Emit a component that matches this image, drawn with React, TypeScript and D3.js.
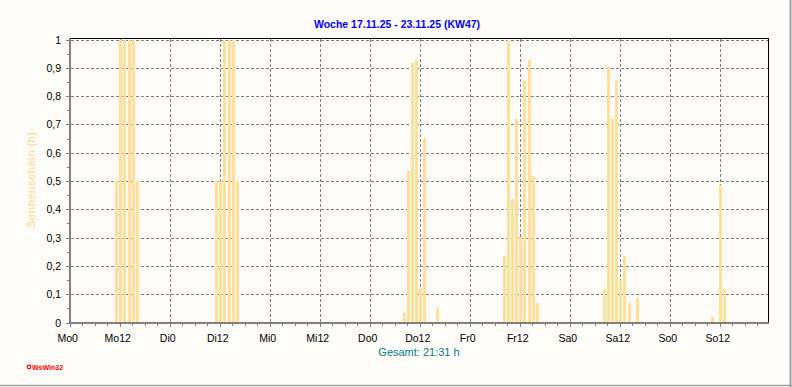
import React from "react";
import * as d3 from "d3";

const W = 792;
const H = 387;

const title = "Woche 17.11.25 - 23.11.25 (KW47)";
const yLabel = "Sonnenschein (h)";
const totalLabel = "Gesamt: 21:31 h";
const dayNames = ["Mo", "Di", "Mi", "Do", "Fr", "Sa", "So"];
const yTicks = [0, 0.1, 0.2, 0.3, 0.4, 0.5, 0.6, 0.7, 0.8, 0.9, 1];

// hourly sunshine (h), 24 values per day
const mo = [0,0,0,0,0,0,0,0,0,0,0,0.5,1,1,1,1,0.5,0,0,0,0,0,0,0];
const di = [0,0,0,0,0,0,0,0,0,0,0,0.5,0.5,1,1,1,0.5,0,0,0,0,0,0,0];
const mi = [0,0,0,0,0,0,0,0,0,0,0,0,0,0,0,0,0,0,0,0,0,0,0,0];
const dO = [0,0,0,0,0,0,0,0,0.035,0.535,0.918,0.929,0.12,0.653,0,0,0.052,0,0,0,0,0,0,0];
const fr = [0,0,0,0,0,0,0,0,0.236,1,0.436,0.719,0.302,0.853,0.929,0.519,0.07,0,0,0,0,0,0,0];
const sa = [0,0,0,0,0,0,0,0,0.12,0.903,0.719,0.853,0.151,0.236,0.07,0,0.088,0,0,0,0,0,0,0];
const so = [0,0,0,0,0,0,0,0,0,0,0.021,0,0.486,0.12,0,0,0,0,0,0,0,0,0,0];

const hourly = [...mo, ...di, ...mi, ...dO, ...fr, ...sa, ...so];

const FONT = "'Liberation Sans', Arial, sans-serif";

export default function App() {
  const left = 70.7;
  const right = 768.7;
  const top = 38.5;
  const x = d3.scaleLinear().domain([0, 167.5]).range([left, right]);
  const y = d3.scaleLinear().domain([0, 1]).range([322.5, 39.5]);
  const base = y(0);
  const barW = 3;

  const majorHours = d3.range(0, 168, 12);
  const minorHours = d3.range(0, 168, 3);
  const minorY = d3.range(0.05, 1, 0.1);

  return (
    <svg
      width={W}
      height={H}
      style={{ position: "absolute", left: 0, top: 0, display: "block" }}
      fontFamily={FONT}
    >
      <rect x={0} y={0} width={W} height={H} fill="#fdfcf8" />
      {/* outer border right/bottom */}
      <line x1={790.5} y1={0} x2={790.5} y2={387} stroke="#a0a0a0" strokeWidth={2} />
      <line x1={0} y1={385.5} x2={792} y2={385.5} stroke="#a0a0a0" strokeWidth={1.5} />

      {/* title */}
      <text x={397} y={28} textAnchor="middle" fill="#0000ff" fontWeight="bold" fontSize={10.5}>
        {title}
      </text>

      {/* grid horizontal */}
      {yTicks.map((t) => (
        <line
          key={"gy" + t}
          x1={left}
          x2={right}
          y1={Math.round(y(t)) + 0.5}
          y2={Math.round(y(t)) + 0.5}
          stroke="#808080"
          strokeDasharray="3,2"
          shapeRendering="crispEdges"
        />
      ))}
      {/* grid vertical */}
      {majorHours.slice(1).map((h) => (
        <line
          key={"gx" + h}
          x1={Math.round(x(h)) - 0.5}
          x2={Math.round(x(h)) - 0.5}
          y1={top}
          y2={base}
          stroke="#808080"
          strokeDasharray="3,2"
          shapeRendering="crispEdges"
        />
      ))}

      {/* bars */}
      {hourly.map((v, i) => {
        const yTop = Math.min(y(v), base - 1);
        return (
          <rect
            key={"b" + i}
            x={Math.round(x(i) - barW / 2)}
            y={Math.round(yTop)}
            width={barW}
            height={Math.round(base + 0.5) - Math.round(yTop)}
            fill="#ffdf9a"
            shapeRendering="crispEdges"
          />
        );
      })}

      {/* frame top/right */}
      <line x1={left} x2={right} y1={top} y2={top} stroke="#000" strokeWidth={1} shapeRendering="crispEdges" />
      <line x1={right} x2={right} y1={top} y2={323} stroke="#000" strokeWidth={1} shapeRendering="crispEdges" />

      {/* left axis */}
      <rect x={69} y={38} width={2} height={286} fill="#808080" />
      {yTicks.map((t) => (
        <g key={"yt" + t}>
          <line x1={66} x2={73} y1={Math.round(y(t)) + 0.5} y2={Math.round(y(t)) + 0.5} stroke="#808080" shapeRendering="crispEdges" />
          <text x={61} y={y(t) + 4} textAnchor="end" fontSize={10.5} fill="#000">
            {t === 0 ? "0" : t === 1 ? "1" : t.toFixed(1).replace(".", ",")}
          </text>
        </g>
      ))}
      {minorY.map((t) => (
        <line key={"ym" + t} x1={67} x2={69} y1={Math.round(y(t)) + 0.5} y2={Math.round(y(t)) + 0.5} stroke="#808080" shapeRendering="crispEdges" />
      ))}

      {/* bottom axis */}
      <rect x={69} y={322} width={right - 69 + 0.5} height={2} fill="#808080" />
      {minorHours.map((h) => (
        <line key={"xm" + h} x1={Math.round(x(h)) - 0.5} x2={Math.round(x(h)) - 0.5} y1={324} y2={h % 12 === 0 ? 327 : 326} stroke="#808080" shapeRendering="crispEdges" />
      ))}
      {majorHours.map((h) => (
        <text key={"xl" + h} x={x(h) - 3} y={342} textAnchor="middle" fontSize={10.5} fill="#000">
          {dayNames[Math.floor(h / 24)] + (h % 24)}
        </text>
      ))}

      {/* y label */}
      <text
        transform={`translate(35,180) rotate(-90)`}
        textAnchor="middle"
        fontSize={11}
        fontWeight="bold"
        fill="#fde3a6"
        textLength={96}
        lengthAdjust="spacing"
      >
        {yLabel}
      </text>

      {/* total */}
      <text x={419} y={356} textAnchor="middle" fontSize={11} fill="#008080">
        {totalLabel}
      </text>

      {/* copyright */}
      <circle cx={29} cy={367} r={1.8} fill="none" stroke="#ff0000" strokeWidth={1.2} />
      <text x={32} y={369.5} fontSize={7} fontWeight="bold" fill="#ff0000">
        WsWin32
      </text>
    </svg>
  );
}
